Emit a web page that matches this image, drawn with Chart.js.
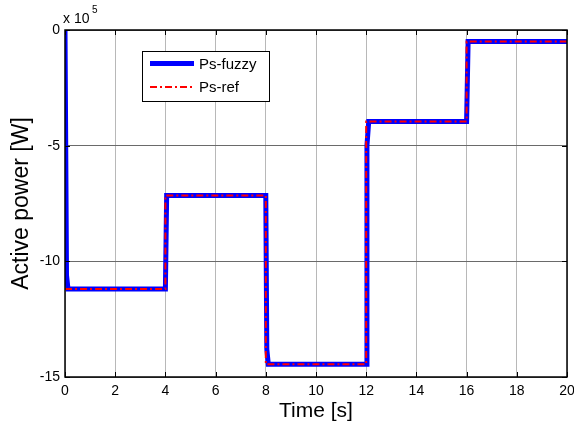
<!DOCTYPE html>
<html>
<head>
<meta charset="utf-8">
<script src="https://cdn.jsdelivr.net/npm/chart.js@4"></script>
<style>
html,body{margin:0;padding:0;background:#fff;}
#wrap{width:574px;height:430px;position:relative;}
</style>
</head>
<body>
<div id="wrap"><canvas id="c" width="574" height="430"></canvas></div>
<script>
// values in units of 1e5 W
const fuzzyTime  = [0, 0.06, 0.12, 4.0, 4.05, 8.0, 8.04, 8.1, 12.0, 12.03, 12.1, 16.0, 16.06, 20];
const fuzzyPower = [0, -10.6, -11.2, -11.2, -7.15, -7.15, -13.8, -14.45, -14.45, -5.0, -3.95, -3.95, -0.5, -0.5];
const refTime    = [0, 4, 4, 8, 8, 12, 12, 16, 16, 20];
const refPower   = [-11.2, -11.2, -7.15, -7.15, -14.45, -14.45, -3.95, -3.95, -0.5, -0.5];
const xTicks = [0, 2, 4, 6, 8, 10, 12, 14, 16, 18, 20];
const yTicks = [0, -5, -10, -15];
const seriesNames = ['Ps-fuzzy', 'Ps-ref'];
const xLabel = 'Time [s]';
const yLabel = 'Active power [W]';

const FONT = "Arial, 'Liberation Sans', sans-serif";
const toPts = (xs, ys) => xs.map((x, i) => ({x: x, y: ys[i]}));

const decor = {
  id: 'decor',
  afterDraw(chart) {
    const ctx = chart.ctx, a = chart.chartArea;
    const xs = chart.scales.x, ys = chart.scales.y;
    ctx.save();
    // box
    ctx.strokeStyle = '#000'; ctx.lineWidth = 1.5;
    ctx.strokeRect(a.left, a.top, a.right - a.left, a.bottom - a.top);
    // inward ticks
    ctx.lineWidth = 1;
    xTicks.forEach(v => {
      const p = Math.round(xs.getPixelForValue(v)) + 0.5;
      ctx.beginPath(); ctx.moveTo(p, a.bottom); ctx.lineTo(p, a.bottom - 5); ctx.stroke();
      ctx.beginPath(); ctx.moveTo(p, a.top); ctx.lineTo(p, a.top + 5); ctx.stroke();
    });
    yTicks.forEach(v => {
      const p = Math.round(ys.getPixelForValue(v)) + 0.5;
      ctx.beginPath(); ctx.moveTo(a.left, p); ctx.lineTo(a.left + 5, p); ctx.stroke();
      ctx.beginPath(); ctx.moveTo(a.right, p); ctx.lineTo(a.right - 5, p); ctx.stroke();
    });
    // exponent
    ctx.fillStyle = '#000';
    ctx.textBaseline = 'alphabetic'; ctx.textAlign = 'left';
    ctx.font = '14px ' + FONT;
    ctx.fillText('x 10', 63, 23);
    ctx.font = '10px ' + FONT;
    ctx.fillText('5', 92, 13);
    // legend
    const lx = 142, ly = 51, lw = 127, lh = 50;
    ctx.fillStyle = '#fff';
    ctx.fillRect(lx, ly, lw, lh);
    ctx.strokeStyle = '#000'; ctx.lineWidth = 1;
    ctx.strokeRect(lx + 0.5, ly + 0.5, lw, lh);
    const ds = chart.data.datasets;
    const rows = [ly + 12.5, ly + 36];
    ds.forEach((d, i) => {
      ctx.save();
      ctx.strokeStyle = d.borderColor; ctx.lineWidth = d.borderWidth;
      ctx.setLineDash(d.borderDash || []);
      ctx.beginPath(); ctx.moveTo(lx + 8, rows[i]); ctx.lineTo(lx + 52, rows[i]); ctx.stroke();
      ctx.restore();
      ctx.fillStyle = '#000'; ctx.font = '15px ' + FONT;
      ctx.textBaseline = 'middle';
      ctx.fillText(d.label, lx + 57, rows[i] + 1);
    });
    ctx.restore();
  }
};

new Chart(document.getElementById('c'), {
  type: 'line',
  data: {
    datasets: [
      {label: seriesNames[0], data: toPts(fuzzyTime, fuzzyPower), borderColor: '#0000ff', borderWidth: 5,
       pointRadius: 0, fill: false, tension: 0, borderJoinStyle: 'miter', order: 2},
      {label: seriesNames[1], data: toPts(refTime, refPower), borderColor: '#ff0000', borderWidth: 2,
       borderDash: [7, 3, 2, 3], pointRadius: 0, fill: false, tension: 0, order: 1}
    ]
  },
  options: {
    responsive: false,
    animation: false,
    layout: {padding: {left: 0, top: 30, right: 7, bottom: 0}},
    plugins: {legend: {display: false}, tooltip: {enabled: false}},
    scales: {
      x: {
        type: 'linear', min: 0, max: 20,
        afterBuildTicks: s => { s.ticks = xTicks.map(v => ({value: v})); },
        afterFit: s => { s.height = 53; s.paddingLeft = 0; s.paddingRight = 0; },
        grid: {color: '#b8b8b8', lineWidth: 1, drawTicks: false},
        border: {display: false},
        ticks: {color: '#000', font: {family: FONT, size: 14}, padding: 6, maxRotation: 0},
        title: {display: true, text: xLabel, color: '#000', font: {family: FONT, size: 21}, padding: {top: 0, bottom: 6}}
      },
      y: {
        type: 'linear', min: -15, max: 0,
        afterBuildTicks: s => { s.ticks = yTicks.map(v => ({value: v})); },
        afterFit: s => { s.width = 65; s.paddingTop = 0; s.paddingBottom = 0; },
        grid: {color: '#6a6a6a', lineWidth: 1, drawTicks: false},
        border: {display: false},
        ticks: {color: '#000', font: {family: FONT, size: 14}, padding: 5},
        title: {display: true, text: yLabel, color: '#000', font: {family: FONT, size: 23}, padding: {top: 8, bottom: 6}}
      }
    }
  },
  plugins: [decor]
});
</script>
</body>
</html>
